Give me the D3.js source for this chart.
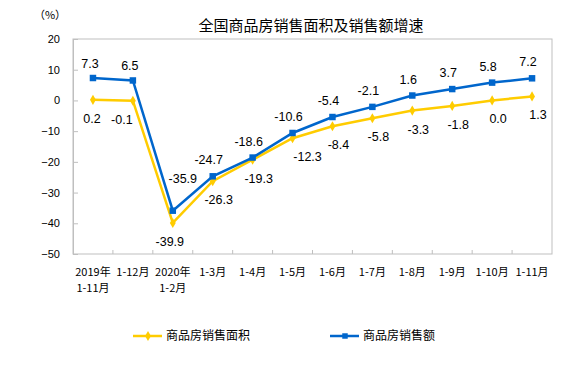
<!DOCTYPE html>
<html>
<head>
<meta charset="utf-8">
<script src="https://cdn.jsdelivr.net/npm/d3@7"></script>
<style>
  body { margin: 0; background: #fff; }
  svg { display: block; }
  .tick text { font-family: "Liberation Sans", Arial, sans-serif; }
</style>
</head>
<body>
<svg id="chart"></svg>
<script>
// data
var months = ["2019年\n1-11月", "1-12月", "2020年\n1-2月", "1-3月", "1-4月", "1-5月",
              "1-6月", "1-7月", "1-8月", "1-9月", "1-10月", "1-11月"];
var areaGrowth = [0.2, -0.1, -39.9, -26.3, -19.3, -12.3, -8.4, -5.8, -3.3, -1.8, 0.0, 1.3];
var salesGrowth = [7.3, 6.5, -35.9, -24.7, -18.6, -10.6, -5.4, -2.1, 1.6, 3.7, 5.8, 7.2];
var yTicks = [20, 10, 0, -10, -20, -30, -40, -50];

var screen = {width: 577, height: 375};
var margins = {top: 39, left: 73, right: 25, bottom: 121};
var graph = {
    width: screen.width - margins.left - margins.right,
    height: screen.height - margins.top - margins.bottom
};

var svg = d3.select("#chart")
    .attr("width", screen.width)
    .attr("height", screen.height);

var xScale = d3.scaleBand()
    .domain(d3.range(months.length))
    .range([0, graph.width]);

var yScale = d3.scaleLinear()
    .domain([-50, 20])
    .range([graph.height, 0]);

var g = svg.append("g")
    .attr("transform", "translate(" + margins.left + "," + margins.top + ")");

// plot border
g.append("rect")
    .attr("width", graph.width)
    .attr("height", graph.height)
    .attr("fill", "none")
    .attr("stroke", "#bfbfbf");

// y axis
var yAxis = d3.axisLeft(yScale).tickValues(yTicks).tickSize(-5).tickPadding(13);
var ya = g.append("g").call(yAxis);
ya.select(".domain").attr("stroke", "#bfbfbf");
ya.selectAll(".tick line").attr("stroke", "#bfbfbf");
ya.selectAll(".tick text").attr("font-size", 11).attr("fill", "#000");

// x axis ticks at band boundaries
var bounds = d3.range(1, months.length);
g.selectAll(".xtick")
    .data(bounds)
    .enter()
    .append("line")
    .attr("x1", function(d) { return xScale(d); })
    .attr("x2", function(d) { return xScale(d); })
    .attr("y1", graph.height)
    .attr("y2", graph.height - 4)
    .attr("stroke", "#bfbfbf");

var xl = g.selectAll(".xlabel")
    .data(months)
    .enter()
    .append("text")
    .attr("text-anchor", "middle")
    .attr("font-family", "'Noto Sans CJK SC', sans-serif")
    .attr("font-size", 11)
    .attr("fill", "#000");
xl.each(function(d, i) {
    var t = d3.select(this);
    d.split("\n").forEach(function(line, j) {
        t.append("tspan")
            .attr("x", xScale(i) + xScale.bandwidth() / 2)
            .attr("y", graph.height + 22 + j * 16)
            .text(line);
    });
});

var cx = function(d, i) { return xScale(i) + xScale.bandwidth() / 2; };

var drawSeries = function(values, color, marker) {
    var line = d3.line()
        .x(cx)
        .y(function(d) { return yScale(d); });
    g.append("path")
        .datum(values)
        .attr("d", line)
        .attr("fill", "none")
        .attr("stroke", color)
        .attr("stroke-width", 2.5);
    g.selectAll(null)
        .data(values)
        .enter()
        .append("path")
        .attr("d", d3.symbol().type(marker).size(marker === d3.symbolSquare ? 42 : 30))
        .attr("transform", function(d, i) {
            return "translate(" + cx(d, i) + "," + yScale(d) + ")";
        })
        .attr("fill", color);
};

drawSeries(areaGrowth, "#ffcc00", d3.symbolDiamond);
drawSeries(salesGrowth, "#0066cc", d3.symbolSquare);

var labelStyle = function(sel) {
    sel.attr("text-anchor", "middle")
        .attr("font-family", "'Liberation Sans', Arial, sans-serif")
        .attr("font-size", 12.5)
        .attr("fill", "#000");
};

// sales labels above
g.selectAll(null)
    .data(salesGrowth)
    .enter()
    .append("text")
    .call(labelStyle)
    .attr("x", function(d, i) { return cx(d, i) + (i === 2 ? 10 : (i < 2 ? -3 : -4)); })
    .attr("y", function(d, i) { return yScale(d) + (i === 2 ? -28 : (i < 2 ? -10 : -12)); })
    .text(function(d) { return d.toFixed(1); });

// area labels below
g.selectAll(null)
    .data(areaGrowth)
    .enter()
    .append("text")
    .call(labelStyle)
    .attr("x", function(d, i) {
        if (i === 1) return cx(d, i) - 11;
        if (i === 2) return cx(d, i) - 3;
        if (i === 0) return cx(d, i) - 1;
        if (i === 5) return cx(d, i) + 15;
        return cx(d, i) + 6;
    })
    .attr("y", function(d, i) { return yScale(d) + 23; })
    .text(function(d) { return d.toFixed(1); });

// title and unit
svg.append("text")
    .attr("x", 311)
    .attr("y", 31)
    .attr("text-anchor", "middle")
    .attr("font-family", "'Noto Sans CJK SC', sans-serif")
    .attr("font-size", 15)
    .attr("fill", "#000")
    .text("全国商品房销售面积及销售额增速");

svg.append("text")
    .attr("x", 50)
    .attr("y", 19)
    .attr("text-anchor", "middle")
    .attr("font-family", "'Noto Sans CJK SC', sans-serif")
    .attr("font-size", 11)
    .attr("fill", "#000")
    .text("（%）");

// legend
var legend = [
    {name: "商品房销售面积", color: "#ffcc00", marker: d3.symbolDiamond, x: 133},
    {name: "商品房销售额", color: "#0066cc", marker: d3.symbolSquare, x: 330}
];
var lg = svg.selectAll(".legend")
    .data(legend)
    .enter()
    .append("g")
    .attr("transform", function(d) { return "translate(" + d.x + ",336)"; });
lg.append("line")
    .attr("x1", 0).attr("x2", 29)
    .attr("stroke", function(d) { return d.color; })
    .attr("stroke-width", 2.5);
lg.append("path")
    .attr("d", function(d) { return d3.symbol().type(d.marker).size(30)(); })
    .attr("transform", "translate(15,0)")
    .attr("fill", function(d) { return d.color; });
lg.append("text")
    .attr("x", 33)
    .attr("y", 4)
    .attr("font-family", "'Noto Sans CJK SC', sans-serif")
    .attr("font-size", 12)
    .attr("fill", "#000")
    .text(function(d) { return d.name; });
</script>
</body>
</html>
